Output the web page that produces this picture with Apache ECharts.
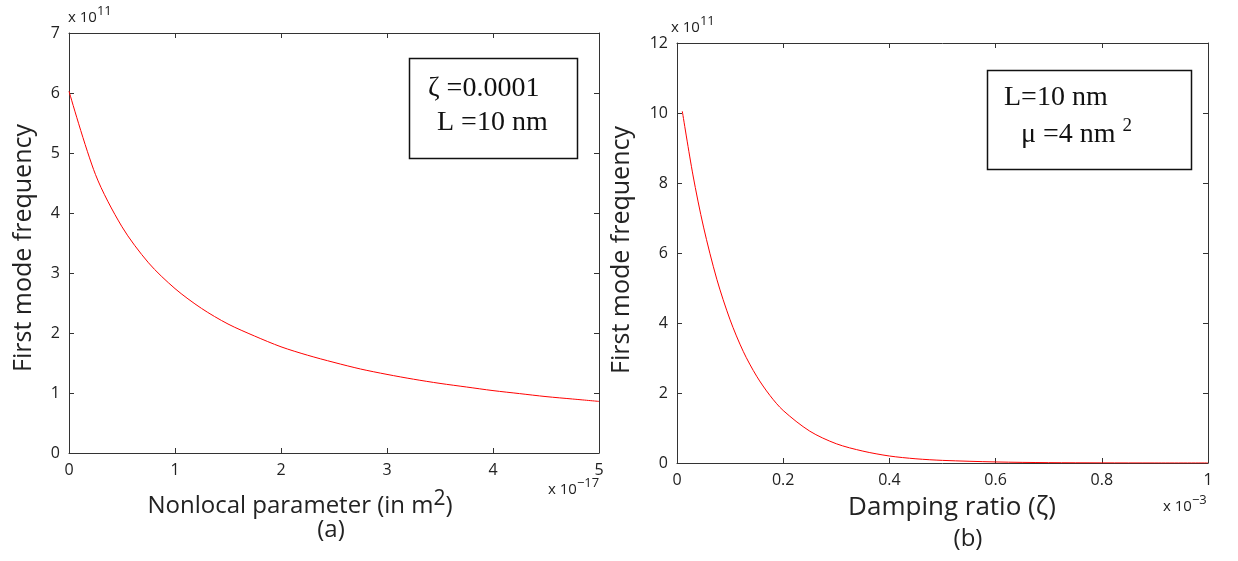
<!DOCTYPE html>
<html><head><meta charset="utf-8">
<script src="https://cdn.jsdelivr.net/npm/echarts@6/dist/echarts.min.js"></script>
<style>html,body{margin:0;padding:0;background:#fff}#c{width:1238px;height:561px}</style>
</head><body><div id="c"></div>
<script>
// Panel (a): nonlocal parameter (x 1e-17 m^2) vs first mode frequency (x 1e11)
const muX = [0,0.25,0.5,0.75,1,1.25,1.5,1.75,2,2.25,2.5,2.75,3,3.25,3.5,3.75,4,4.25,4.5,4.75,5];
const freqA = [6.03,4.64,3.77,3.17,2.74,2.41,2.15,1.95,1.77,1.63,1.51,1.40,1.31,1.23,1.16,1.10,1.04,0.99,0.94,0.90,0.86];
// Panel (b): damping ratio (x 1e-3) vs first mode frequency (x 1e11)
const zetaX = [0.01,0.03,0.05,0.075,0.1,0.125,0.15,0.175,0.2,0.25,0.3,0.35,0.4,0.45,0.5,0.6,0.7,0.8,0.9,1.0];
const freqB = [10.05,8.23,6.74,5.25,4.09,3.18,2.48,1.93,1.50,0.91,0.55,0.34,0.20,0.12,0.075,0.03,0.01,0.004,0.001,0.0005];
const xTicksA = ['0','1','2','3','4','5'];
const xTicksB = ['0','0.2','0.4','0.6','0.8','1'];

const FONT = '"Open Sans", "DejaVu Sans", sans-serif';
const chart = echarts.init(document.getElementById('c'), null, {renderer:'canvas'});
const axisLine = {show:true, onZero:false, lineStyle:{color:'#333', width:1}};
const tick = {show:true, inside:true, length:5, lineStyle:{color:'#333'}};
const lbl = {color:'#222', fontSize:16, fontFamily:FONT};

function xAxes(gi, max, interval, labels){
  return [
    {gridIndex:gi, type:'value', min:0, max:max, interval:interval, position:'bottom',
     axisLine, axisTick:tick, splitLine:{show:false},
     axisLabel:{...lbl, margin:9, formatter:(v)=>labels[Math.round(v/interval)]}},
    {gridIndex:gi, type:'value', min:0, max:max, interval:interval, position:'top',
     axisLine, axisTick:tick, splitLine:{show:false}, axisLabel:{show:false}}
  ];
}
function yAxes(gi, max, interval){
  return [
    {gridIndex:gi, type:'value', min:0, max:max, interval:interval, position:'left',
     axisLine, axisTick:tick, splitLine:{show:false}, axisLabel:{...lbl, margin:9}},
    {gridIndex:gi, type:'value', min:0, max:max, interval:interval, position:'right',
     axisLine, axisTick:tick, splitLine:{show:false}, axisLabel:{show:false}}
  ];
}

const richSup = {s:{fontSize:13, fontFamily:FONT, fill:'#222', padding:[0,0,12,0]}};

chart.setOption({
  animation:false,
  grid:[
    {left:69, right:639, top:33, bottom:108},
    {left:677, right:30, top:43, bottom:98}
  ],
  xAxis:[...xAxes(0,5,1,xTicksA), ...xAxes(1,1,0.2,xTicksB)],
  yAxis:[...yAxes(0,7,1), ...yAxes(1,12,2)],
  series:[
    {type:'line', xAxisIndex:0, yAxisIndex:0, data:muX.map((x,i)=>[x,freqA[i]]), smooth:0.3,
     showSymbol:false, lineStyle:{color:'#ff0000', width:1}},
    {type:'line', xAxisIndex:2, yAxisIndex:2, data:zetaX.map((x,i)=>[x,freqB[i]]), smooth:0.3,
     showSymbol:false, lineStyle:{color:'#ff0000', width:1}}
  ],
  graphic:[
    {type:'text', left:68, top:5, style:{text:'x 10{s|11}', font:'15px '+FONT, fill:'#222', rich:richSup}},
    {type:'text', left:548, top:477, style:{text:'x 10{s|−17}', font:'15px '+FONT, fill:'#222', rich:richSup}},
    {type:'text', left:671, top:15, style:{text:'x 10{s|11}', font:'15px '+FONT, fill:'#222', rich:richSup}},
    {type:'text', left:1163, top:494, style:{text:'x 10{s|−3}', font:'15px '+FONT, fill:'#222', rich:richSup}},
    {type:'text', x:300, y:489, style:{text:'Nonlocal parameter (in m{s|2})', font:'24px '+FONT, fill:'#222', align:'center', rich:{s:{fontSize:21, fontFamily:FONT, fill:'#222', padding:[0,0,14,0]}}}},
    {type:'text', x:331, y:518, style:{text:'(a)', font:'24px '+FONT, fill:'#222', align:'center'}},
    {type:'text', x:24, y:248, rotation:Math.PI/2, style:{text:'First mode frequency', font:'25px '+FONT, fill:'#222', align:'center', verticalAlign:'middle'}},
    {type:'text', x:952, y:495, style:{text:'Damping ratio (ζ)', font:'26px '+FONT, fill:'#222', align:'center'}},
    {type:'text', x:968, y:527, style:{text:'(b)', font:'24px '+FONT, fill:'#222', align:'center'}},
    {type:'text', x:622, y:250, rotation:Math.PI/2, style:{text:'First mode frequency', font:'25px '+FONT, fill:'#222', align:'center', verticalAlign:'middle'}},
    {type:'rect', shape:{x:409.5, y:58.5, width:168, height:100}, style:{fill:'#fff', stroke:'#111', lineWidth:1.5}},
    {type:'text', x:428, y:75, style:{text:'ζ =0.0001', font:'28px "Liberation Serif", serif', fill:'#111'}},
    {type:'text', x:437, y:109, style:{text:'L =10 nm', font:'28px "Liberation Serif", serif', fill:'#111'}},
    {type:'rect', shape:{x:987.5, y:70.5, width:204, height:99}, style:{fill:'#fff', stroke:'#111', lineWidth:1.5}},
    {type:'text', x:1004, y:84, style:{text:'L=10 nm', font:'28px "Liberation Serif", serif', fill:'#111'}},
    {type:'text', x:1021, y:117, style:{text:'μ =4 nm {s|2}', font:'28px "Liberation Serif", serif', fill:'#111', rich:{s:{fontSize:19, fontFamily:'"Liberation Serif", serif', fill:'#111', padding:[0,0,16,0]}}}}
  ]
});
</script></body></html>
